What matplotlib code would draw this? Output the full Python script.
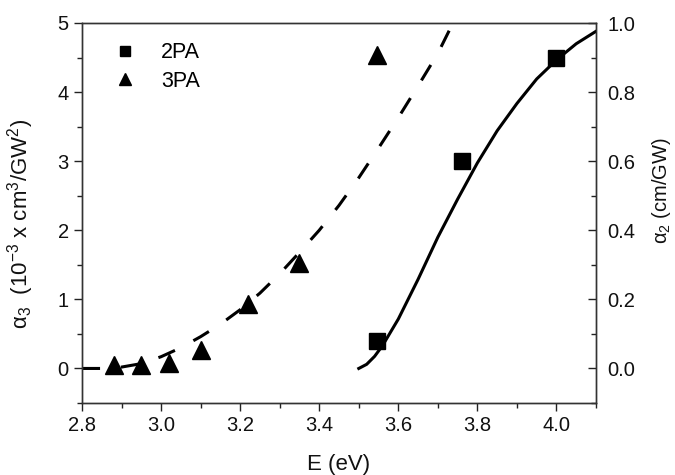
import matplotlib
matplotlib.use("Agg")
import matplotlib.pyplot as plt
from matplotlib.ticker import MultipleLocator, FormatStrFormatter
from matplotlib.lines import Line2D

plt.rcParams['font.family'] = ['Liberation Sans', 'DejaVu Sans']
plt.rcParams['mathtext.fontset'] = 'custom'
plt.rcParams['mathtext.rm'] = 'Liberation Sans'
plt.rcParams['mathtext.it'] = 'Liberation Sans'
plt.rcParams['mathtext.default'] = 'regular'
plt.rcParams['lines.scale_dashes'] = False

# 3PA data (left axis)
e_3pa = [2.88, 2.95, 3.02, 3.10, 3.22, 3.35, 3.545]
a3_3pa = [0.05, 0.05, 0.08, 0.27, 0.93, 1.52, 4.53]

# 2PA data (right axis)
e_2pa = [3.545, 3.76, 4.00]
a2_2pa = [0.08, 0.60, 0.90]

# 3PA fit (dashed, left axis)
e_fit3 = [2.80, 2.85, 2.90, 2.95, 3.00, 3.05, 3.10, 3.15, 3.20, 3.25, 3.30,
          3.35, 3.40, 3.45, 3.50, 3.55, 3.60, 3.65, 3.70, 3.74]
a3_fit = [0.00, 0.00, 0.02, 0.07, 0.17, 0.30, 0.46, 0.64, 0.85, 1.09, 1.37,
          1.68, 2.00, 2.36, 2.76, 3.19, 3.63, 4.09, 4.56, 5.02]

# 2PA fit (solid, right axis)
e_fit2 = [3.50, 3.52, 3.54, 3.56, 3.60, 3.65, 3.70, 3.75, 3.80, 3.85, 3.90,
          3.95, 4.00, 4.05, 4.10]
a2_fit = [0.000, 0.012, 0.035, 0.066, 0.143, 0.258, 0.380, 0.490, 0.595,
          0.688, 0.767, 0.838, 0.893, 0.940, 0.976]

fig = plt.figure(figsize=(6.75, 4.75), dpi=100)
ax = fig.add_axes([82/675, 1-403/475, (596-82)/675, (403-23)/475])
ax2 = ax.twinx()

ax.plot(e_fit3, a3_fit, color='black', lw=2.2, linestyle=(0, (13, 15)), zorder=2)
ax.plot(e_3pa, a3_3pa, linestyle='none', marker='^', ms=13.5, color='black', zorder=3)

ax2.plot(e_fit2, a2_fit, color='black', lw=2.2, zorder=2)
ax2.plot(e_2pa, a2_2pa, linestyle='none', marker='s', ms=12, color='black', zorder=3)

ax.set_xlim(2.8, 4.1)
ax.set_ylim(-0.5, 5.0)
ax2.set_ylim(-0.1, 1.0)

ax.xaxis.set_major_locator(MultipleLocator(0.2))
ax.xaxis.set_minor_locator(MultipleLocator(0.1))
ax.yaxis.set_major_locator(MultipleLocator(1))
ax.yaxis.set_minor_locator(MultipleLocator(0.5))
ax2.yaxis.set_major_locator(MultipleLocator(0.2))
ax2.yaxis.set_minor_locator(MultipleLocator(0.1))
ax.xaxis.set_major_formatter(FormatStrFormatter('%.1f'))
ax2.yaxis.set_major_formatter(FormatStrFormatter('%.1f'))

fs = 14.5
ax.tick_params(axis='x', which='both', direction='out', top=False, labelsize=fs, width=1, colors='#222222', labelcolor='#111111')
ax.tick_params(axis='x', which='major', length=6)
ax.tick_params(axis='x', which='minor', length=3.5)
ax.tick_params(axis='y', which='both', direction='out', right=False, labelsize=fs, width=1, colors='#222222', labelcolor='#111111')
ax.tick_params(axis='y', which='major', length=6)
ax.tick_params(axis='y', which='minor', length=3.5)
ax2.tick_params(axis='y', which='both', direction='in', labelsize=fs, width=1, colors='#222222', labelcolor='#111111', pad=8)
ax2.tick_params(axis='y', which='major', length=6)
ax2.tick_params(axis='y', which='minor', length=3.5)

for a in (ax, ax2):
    for s in a.spines.values():
        s.set_linewidth(1.0)
        s.set_color('#333333')

ax.set_xlabel('E (eV)', fontsize=fs+1.5, color='#111111')
ax.xaxis.set_label_coords(0.5, -0.135)
ax.set_ylabel('α$_{3}$  (10$^{-3}$ x cm$^{3}$/GW$^{2}$)', fontsize=fs+1.5, color='#111111')
ax.yaxis.set_label_coords(-0.09, 0.47)
ax2.set_ylabel('α$_{2}$ (cm/GW)', fontsize=fs, color='#111111')
ax2.yaxis.set_label_coords(1.105, 0.56)

h1 = Line2D([], [], linestyle='none', marker='s', ms=7.5, color='black')
h2 = Line2D([], [], linestyle='none', marker='^', ms=9, color='black')
leg = ax.legend([h1, h2], ['2PA', '3PA'], loc='upper left', frameon=False,
                fontsize=fs+1, handletextpad=0.9, borderaxespad=0.5,
                labelspacing=0.35, handlelength=1.5,
                bbox_to_anchor=(0.015, 1.0))

fig.savefig('out.png', dpi=100)
